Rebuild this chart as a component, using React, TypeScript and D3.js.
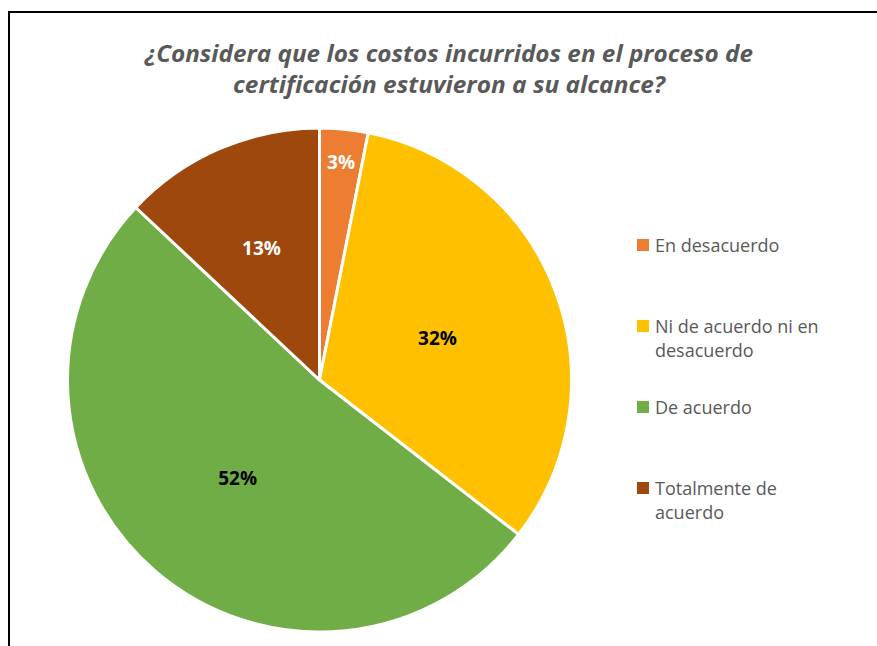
import React from "react";
import * as d3 from "d3";

const categories = [
  "En desacuerdo",
  "Ni de acuerdo ni en desacuerdo",
  "De acuerdo",
  "Totalmente de acuerdo",
];
const values = [3.1, 32.4, 51.5, 13.0];
const valueLabels = ["3%", "32%", "52%", "13%"];
const legendLines = [
  ["En desacuerdo"],
  ["Ni de acuerdo ni en", "desacuerdo"],
  ["De acuerdo"],
  ["Totalmente de", "acuerdo"],
];
const titleLines = [
  "¿Considera que los costos incurridos en el proceso de",
  "certificación estuvieron a su alcance?",
];
const titleWidths = [608, 432];
const colors = ["#ED7D31", "#FFC000", "#70AD47", "#9E480E"];
const labelColors = ["#FFFFFF", "#000000", "#000000", "#FFFFFF"];

const W = 877;
const H = 646;
const FONT = "'Open Sans', Lato, 'Liberation Sans', sans-serif";

export default function App() {
  const cx = 319.5;
  const cy = 380;
  const r = 252;
  const pie = d3
    .pie<number>()
    .sort(null)
    .value((d) => d);
  const arcs = pie(values);
  const arcGen = d3.arc<d3.PieArcDatum<number>>().innerRadius(0).outerRadius(r);
  const labelRadiusFactor = (a: d3.PieArcDatum<number>) => {
    const span = a.endAngle - a.startAngle;
    if (span < 0.3) return 0.88;
    if (span < 1.0) return 0.58;
    return 0.5;
  };
  const legendX = 637;
  const legendRows = [239, 320, 401, 482];
  return (
    <svg
      width={W}
      height={H}
      style={{ position: "absolute", left: 0, top: 0, background: "#fff" }}
    >
      <rect x={0} y={0} width={W} height={H} fill="#fff" />
      <rect
        x={9}
        y={12}
        width={W + 20}
        height={H + 20}
        fill="none"
        stroke="#000"
        strokeWidth={2}
      />
      {titleLines.map((t, i) => (
        <text
          key={i}
          x={449}
          y={62 + i * 31}
          textAnchor="middle"
          fontFamily={FONT}
          fontStyle="italic"
          fontWeight="bold"
          fontSize={23}
          fill="#595959"
          textLength={titleWidths[i]}
          lengthAdjust="spacingAndGlyphs"
        >
          {t}
        </text>
      ))}
      <g transform={`translate(${cx},${cy})`}>
        {arcs.map((a, i) => (
          <path
            key={categories[i]}
            d={arcGen(a) || ""}
            fill={colors[i]}
            stroke="#fff"
            strokeWidth={3}
            strokeLinejoin="round"
          />
        ))}
        {arcs.map((a, i) => {
          const k = labelRadiusFactor(a) * r;
          const [x, y] = d3
            .arc<d3.PieArcDatum<number>>()
            .innerRadius(k)
            .outerRadius(k)
            .centroid(a);
          return (
            <text
              key={"l" + i}
              x={x}
              y={y}
              dy="0.5em"
              textAnchor="middle"
              fontFamily={FONT}
              fontWeight="bold"
              fontSize={19}
              fill={labelColors[i]}
            >
              {valueLabels[i]}
            </text>
          );
        })}
      </g>
      {categories.map((c, i) => (
        <g key={"lg" + i} transform={`translate(${legendX},${legendRows[i]})`}>
          <rect x={0} y={0} width={12} height={12} fill={colors[i]} />
          {legendLines[i].map((line, j) => (
            <text
              key={j}
              x={18}
              y={12.5 + j * 24}
              fontFamily={FONT}
              fontSize={18}
              fill="#595959"
            >
              {line}
            </text>
          ))}
        </g>
      ))}
    </svg>
  );
}
